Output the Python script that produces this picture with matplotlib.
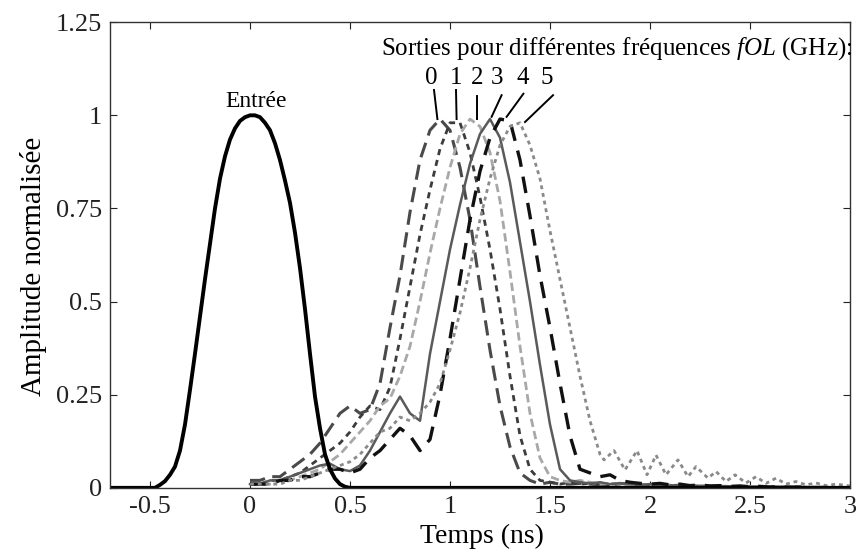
import numpy as np
import matplotlib.pyplot as plt

plt.rcParams['font.family'] = ['Liberation Serif', 'DejaVu Serif']
plt.rcParams['mathtext.fontset'] = 'custom'
plt.rcParams['mathtext.it'] = 'Liberation Serif:italic'
plt.rcParams['mathtext.rm'] = 'Liberation Serif'

# Impulsion d'entree
t_in = [-0.7, -0.5, -0.475, -0.45, -0.425, -0.4, -0.375, -0.35, -0.325, -0.3,
        -0.275, -0.25, -0.225, -0.2, -0.175, -0.15, -0.125, -0.1, -0.075, -0.05,
        -0.025, 0.0, 0.025, 0.05, 0.075, 0.1, 0.125, 0.15, 0.175, 0.2,
        0.225, 0.25, 0.275, 0.3, 0.325, 0.35, 0.375, 0.4, 0.425, 0.45,
        0.475, 0.5, 3.0]
a_in = [0.0, 0.0, 0.0, 0.008, 0.018, 0.035, 0.057, 0.10, 0.17, 0.263,
        0.36, 0.46, 0.56, 0.655, 0.75, 0.83, 0.89, 0.935, 0.965, 0.985,
        0.995, 1.0, 1.0, 0.995, 0.98, 0.96, 0.925, 0.88, 0.825, 0.765,
        0.685, 0.59, 0.48, 0.36, 0.245, 0.16, 0.09, 0.05, 0.025, 0.01,
        0.003, 0.0, 0.0]

# Sorties (pas de 0.05 ns, de 0 a 3 ns)
t_out = np.round(np.arange(0, 3.0001, 0.05), 2)
out0 = [0.02, 0.02, 0.03, 0.03, 0.05, 0.07, 0.09, 0.12, 0.16, 0.20,
        0.22, 0.20, 0.21, 0.28, 0.43, 0.57, 0.74, 0.88, 0.96, 0.99,
        0.96, 0.86, 0.72, 0.54, 0.37, 0.22, 0.11, 0.04, 0.02, 0.01,
        0.015, 0.01, 0.01, 0.012, 0.01, 0.008, 0.01, 0.012, 0.01, 0.008,
        0.006, 0.008, 0.006, 0.005, 0.006, 0.004, 0.005, 0.004, 0.003, 0.004,
        0.003, 0.003, 0.002, 0.002, 0.002, 0.002, 0.001, 0.001, 0.001, 0.0,
        0.0]
out1 = [0.01, 0.01, 0.02, 0.02, 0.03, 0.04, 0.06, 0.08, 0.10, 0.12,
        0.15, 0.19, 0.22, 0.21, 0.27, 0.40, 0.54, 0.68, 0.80, 0.91,
        0.98, 0.98, 0.90, 0.78, 0.64, 0.48, 0.30, 0.14, 0.05, 0.02,
        0.015, 0.01, 0.015, 0.01, 0.012, 0.01, 0.008, 0.01, 0.008, 0.006,
        0.008, 0.006, 0.005, 0.006, 0.004, 0.005, 0.004, 0.003, 0.004, 0.003,
        0.003, 0.002, 0.002, 0.002, 0.001, 0.002, 0.001, 0.001, 0.0, 0.0,
        0.0]
out2 = [0.01, 0.01, 0.01, 0.02, 0.02, 0.03, 0.04, 0.05, 0.07, 0.09,
        0.12, 0.15, 0.18, 0.22, 0.24, 0.30, 0.38, 0.50, 0.63, 0.75,
        0.86, 0.95, 0.99, 0.97, 0.90, 0.77, 0.58, 0.38, 0.20, 0.08,
        0.03, 0.02, 0.015, 0.02, 0.015, 0.01, 0.012, 0.01, 0.008, 0.01,
        0.008, 0.006, 0.008, 0.006, 0.005, 0.006, 0.004, 0.005, 0.004, 0.003,
        0.004, 0.003, 0.002, 0.003, 0.002, 0.001, 0.002, 0.001, 0.001, 0.0,
        0.0]
out3 = [0.01, 0.01, 0.02, 0.02, 0.03, 0.04, 0.05, 0.06, 0.065, 0.05,
        0.045, 0.06, 0.10, 0.15, 0.20, 0.245, 0.20, 0.18, 0.36, 0.50,
        0.64, 0.76, 0.87, 0.95, 0.99, 0.94, 0.82, 0.66, 0.50, 0.33,
        0.17, 0.05, 0.02, 0.015, 0.012, 0.015, 0.01, 0.012, 0.01, 0.008,
        0.01, 0.008, 0.006, 0.008, 0.006, 0.005, 0.004, 0.005, 0.004, 0.003,
        0.003, 0.002, 0.003, 0.002, 0.002, 0.001, 0.001, 0.001, 0.0, 0.0,
        0.0]
out4 = [0.01, 0.01, 0.01, 0.02, 0.02, 0.03, 0.03, 0.04, 0.05, 0.05,
        0.04, 0.05, 0.08, 0.10, 0.13, 0.16, 0.14, 0.10, 0.13, 0.25,
        0.40, 0.56, 0.72, 0.85, 0.94, 0.99, 0.985, 0.88, 0.73, 0.57,
        0.43, 0.28, 0.14, 0.05, 0.04, 0.03, 0.035, 0.02, 0.015, 0.012,
        0.01, 0.012, 0.008, 0.01, 0.006, 0.008, 0.005, 0.006, 0.004, 0.005,
        0.003, 0.004, 0.002, 0.003, 0.002, 0.002, 0.001, 0.001, 0.001, 0.0,
        0.0]
# la sortie 5 a une queue oscillante, echantillonnee plus finement
t_out5 = [0.0, 0.05, 0.1, 0.15, 0.2, 0.25, 0.3, 0.35, 0.4, 0.45,
          0.5, 0.55, 0.6, 0.65, 0.7, 0.75, 0.8, 0.85, 0.9, 0.95,
          1.0, 1.05, 1.1, 1.15, 1.2, 1.25, 1.3, 1.35, 1.4, 1.45,
          1.5, 1.55, 1.6, 1.65, 1.7, 1.75, 1.77, 1.82, 1.875, 1.935,
          1.985, 2.03, 2.08, 2.14, 2.19, 2.23, 2.29, 2.33, 2.38, 2.425,
          2.48, 2.53, 2.58, 2.63, 2.68, 2.73, 2.78, 2.83, 2.88, 2.93, 3.0]
out5 = [0.01, 0.01, 0.01, 0.01, 0.02, 0.02, 0.03, 0.04, 0.05, 0.06,
        0.07, 0.09, 0.12, 0.15, 0.16, 0.19, 0.18, 0.20, 0.23, 0.28,
        0.37, 0.47, 0.59, 0.72, 0.83, 0.92, 0.97, 0.98, 0.92, 0.83,
        0.69, 0.56, 0.43, 0.30, 0.18, 0.09, 0.075, 0.10, 0.048, 0.10,
        0.035, 0.088, 0.035, 0.075, 0.03, 0.057, 0.026, 0.044, 0.017, 0.035,
        0.013, 0.03, 0.012, 0.026, 0.01, 0.017, 0.008, 0.013, 0.006, 0.01, 0.005]

freqs = ['0', '1', '2', '3', '4', '5']
# position des etiquettes et des traits de rappel
lab_x = [0.905, 1.03, 1.135, 1.235, 1.365, 1.485]
lead_x0 = [0.92, 1.03, 1.133, 1.258, 1.367, 1.515]
lead_y0 = [1.068, 1.068, 1.052, 1.054, 1.058, 1.054]
lead_x1 = [0.937, 1.033, 1.133, 1.208, 1.283, 1.375]
lead_y1 = [0.99, 0.99, 0.99, 0.996, 0.996, 0.982]

fig = plt.figure(figsize=(8.56, 5.55), dpi=100)
ax = fig.add_axes([0.1285, 0.121, 0.8645, 0.839])

ax.plot(t_out, out0, color='#4a4a4a', lw=2.2, dashes=(5, 2.5))
ax.plot(t_out, out1, color='#3c3c3c', lw=2.0, dashes=(2.2, 1.8))
ax.plot(t_out, out2, color='#a8a8a8', lw=2.0, dashes=(3, 1.5))
ax.plot(t_out, out3, color='#5a5a5a', lw=1.8)
ax.plot(t_out, out4, color='#111111', lw=2.4, dashes=(5, 3))
ax.plot(t_out5, out5, color='#8a8a8a', lw=2.0, dashes=(1.4, 1.4))
ax.plot(t_in, a_in, color='black', lw=2.8)

for k in range(len(freqs)):
    ax.text(lab_x[k], 1.10, freqs[k], ha='center', va='center', fontsize=18)
    ax.plot([lead_x0[k], lead_x1[k]], [lead_y0[k], lead_y1[k]], color='black', lw=1.4)

ax.text(3.01, 1.18, 'Sorties pour différentes fréquences $fOL$ (GHz):',
        ha='right', va='center', fontsize=18, clip_on=False)
ax.text(0.033, 1.036, 'Entrée', ha='center', va='center', fontsize=17)

ax.set_xlim(-0.7, 3.0)
ax.set_ylim(0, 1.25)
ax.set_xticks([-0.5, 0, 0.5, 1, 1.5, 2, 2.5, 3])
ax.set_xticklabels(['-0.5', '0', '0.5', '1', '1.5', '2', '2.5', '3'])
ax.set_yticks([0, 0.25, 0.5, 0.75, 1, 1.25])
ax.set_yticklabels(['0', '0.25', '0.5', '0.75', '1', '1.25'])
ax.tick_params(direction='in', top=True, right=True, length=5, width=0.8,
               labelsize=19, colors='#222222', pad=6)
for sp in ax.spines.values():
    sp.set_color('#333333')
    sp.set_linewidth(1.0)

ax.set_xlabel('Temps (ns)', fontsize=20)
ax.xaxis.label.set_va('center')
ax.xaxis.set_label_coords(0.503, -0.105)
ax.set_ylabel('Amplitude normalisée', fontsize=21)
ax.yaxis.label.set_va('center')
ax.yaxis.set_label_coords(-0.103, 0.476)

fig.savefig('out.png', dpi=100)
